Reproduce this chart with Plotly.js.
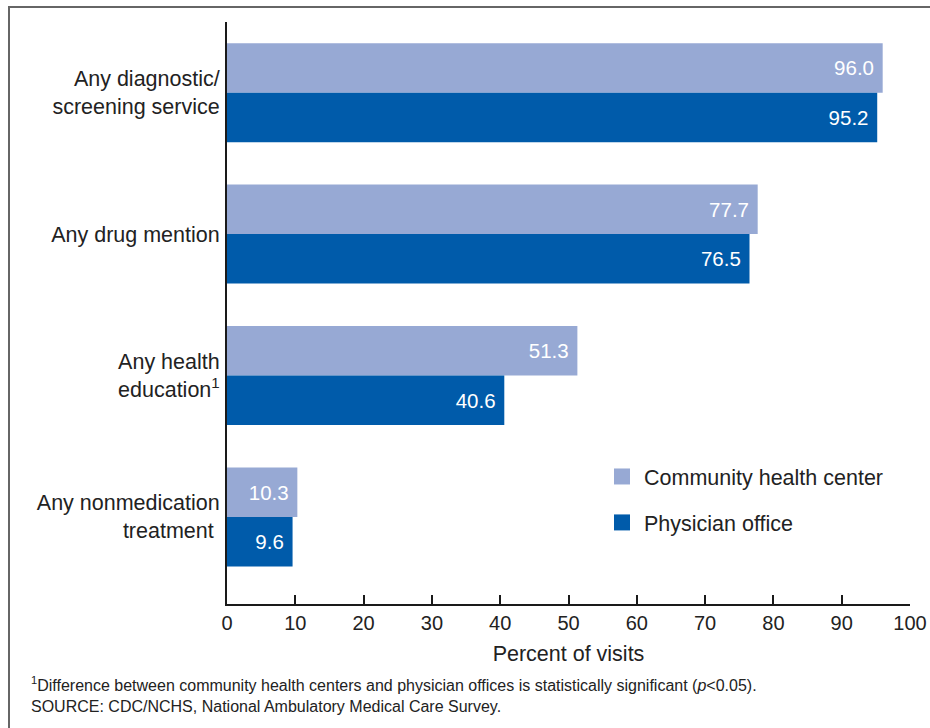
<!DOCTYPE html>
<html>
<head>
<meta charset="utf-8">
<script src="https://cdn.plot.ly/plotly-3.0.1.min.js"></script>
<style>
  html, body { margin: 0; padding: 0; background: #fff; }
  #chart { width: 930px; height: 728px; }
</style>
</head>
<body>
<div id="chart"></div>
<script>
// ---- data ----
var categories = [
  "Any diagnostic/screening service",
  "Any drug mention",
  "Any health education",
  "Any nonmedication treatment"
];
var tickLabels = [
  "Any diagnostic/<br>screening service",
  "Any drug mention",
  "Any health<br>education<sup>1</sup>",
  "Any nonmedication<br>treatment\u00a0"
];
var seriesNames = ["Community health center", "Physician office"];
var communityValues = [96.0, 77.7, 51.3, 10.3];
var physicianValues = [95.2, 76.5, 40.6, 9.6];
var xTicks = [0, 10, 20, 30, 40, 50, 60, 70, 80, 90, 100];
var xTitle = "Percent of visits";
var footnote = "<sup>1</sup>Difference between community health centers and physician offices is statistically significant (<i>p</i>&lt;0.05).<br>SOURCE: CDC/NCHS, National Ambulatory Medical Care Survey.";

var lightBlue = "#97a9d4";
var darkBlue = "#005baa";
var FONT = "'Liberation Sans', Arial, Helvetica, sans-serif";

// geometry helpers (pixel -> paper)
var W = 930, H = 728, ML = 227, MR = 20, MT = 22, MB = 124;
var PW = W - ML - MR, PH = H - MT - MB;
function px(x) { return (x - ML) / PW; }
function py(y) { return (H - MB - y) / PH; }

var traces = [
  {
    type: "bar", orientation: "h", name: seriesNames[0],
    y: categories, x: communityValues,
    marker: { color: lightBlue, line: { width: 0 } },
    texttemplate: "%{x:.1f}\u00a0", textposition: "inside", insidetextanchor: "end",
    textfont: { color: "#ffffff", size: 20.5, family: FONT },
    showlegend: false, hoverinfo: "skip"
  },
  {
    type: "bar", orientation: "h", name: seriesNames[1],
    y: categories, x: physicianValues,
    marker: { color: darkBlue, line: { width: 0 } },
    texttemplate: "%{x:.1f}\u00a0", textposition: "inside", insidetextanchor: "end",
    textfont: { color: "#ffffff", size: 20.5, family: FONT },
    showlegend: false, hoverinfo: "skip"
  },
  // legend proxies
  {
    type: "scatter", mode: "markers", name: seriesNames[0],
    x: [null], y: [null], legendgroup: "a",
    marker: { symbol: "square", size: 18, color: lightBlue }
  },
  {
    type: "scatter", mode: "markers", name: seriesNames[1],
    x: [null], y: [null], legendgroup: "b",
    marker: { symbol: "square", size: 18, color: darkBlue }
  }
];

var layout = {
  width: W, height: H,
  margin: { l: ML, r: MR, t: MT, b: MB, pad: 0 },
  paper_bgcolor: "#ffffff", plot_bgcolor: "#ffffff",
  font: { family: FONT, color: "#222222", size: 20 },
  barmode: "group", bargap: 0.3, bargroupgap: 0,
  showlegend: true,
  legend: {
    x: px(600), y: py(456), xanchor: "left", yanchor: "top",
    font: { size: 21.5, color: "#222222", family: FONT },
    traceorder: "grouped", tracegroupgap: 15,
    itemsizing: "trace", itemwidth: 34,
    bgcolor: "rgba(0,0,0,0)", borderwidth: 0
  },
  xaxis: {
    range: [0, 100], tickvals: xTicks, ticktext: xTicks.map(String),
    ticks: "inside", ticklen: 9, tickwidth: 2, tickcolor: "#1a1a1a",
    showline: true, linewidth: 2, linecolor: "#1a1a1a",
    showgrid: false, zeroline: false,
    tickfont: { size: 20, color: "#222222", family: FONT },
    title: { text: xTitle, font: { size: 21.5, color: "#222222", family: FONT }, standoff: 13 },
    fixedrange: true
  },
  yaxis: {
    type: "category", categoryorder: "array", categoryarray: categories,
    range: [3.616, -0.5],
    tickvals: categories, ticktext: tickLabels,
    ticks: "", showline: true, linewidth: 2, linecolor: "#1a1a1a",
    showgrid: false, zeroline: false,
    tickfont: { size: 21.5, color: "#222222", family: FONT },
    ticklabelstandoff: 1,
    fixedrange: true
  },
  shapes: [
    { type: "rect", xref: "paper", yref: "paper",
      x0: px(9), x1: px(960), y0: py(760), y1: py(7),
      line: { color: "#666666", width: 2 }, fillcolor: "rgba(0,0,0,0)", layer: "below" }
  ],
  annotations: [
    { xref: "paper", yref: "paper", x: px(29), y: py(695),
      xanchor: "left", yanchor: "middle", align: "left",
      showarrow: false, text: footnote,
      font: { size: 16, color: "#222222", family: FONT } }
  ]
};

Plotly.newPlot("chart", traces, layout, { staticPlot: true, displayModeBar: false });
</script>
</body>
</html>
